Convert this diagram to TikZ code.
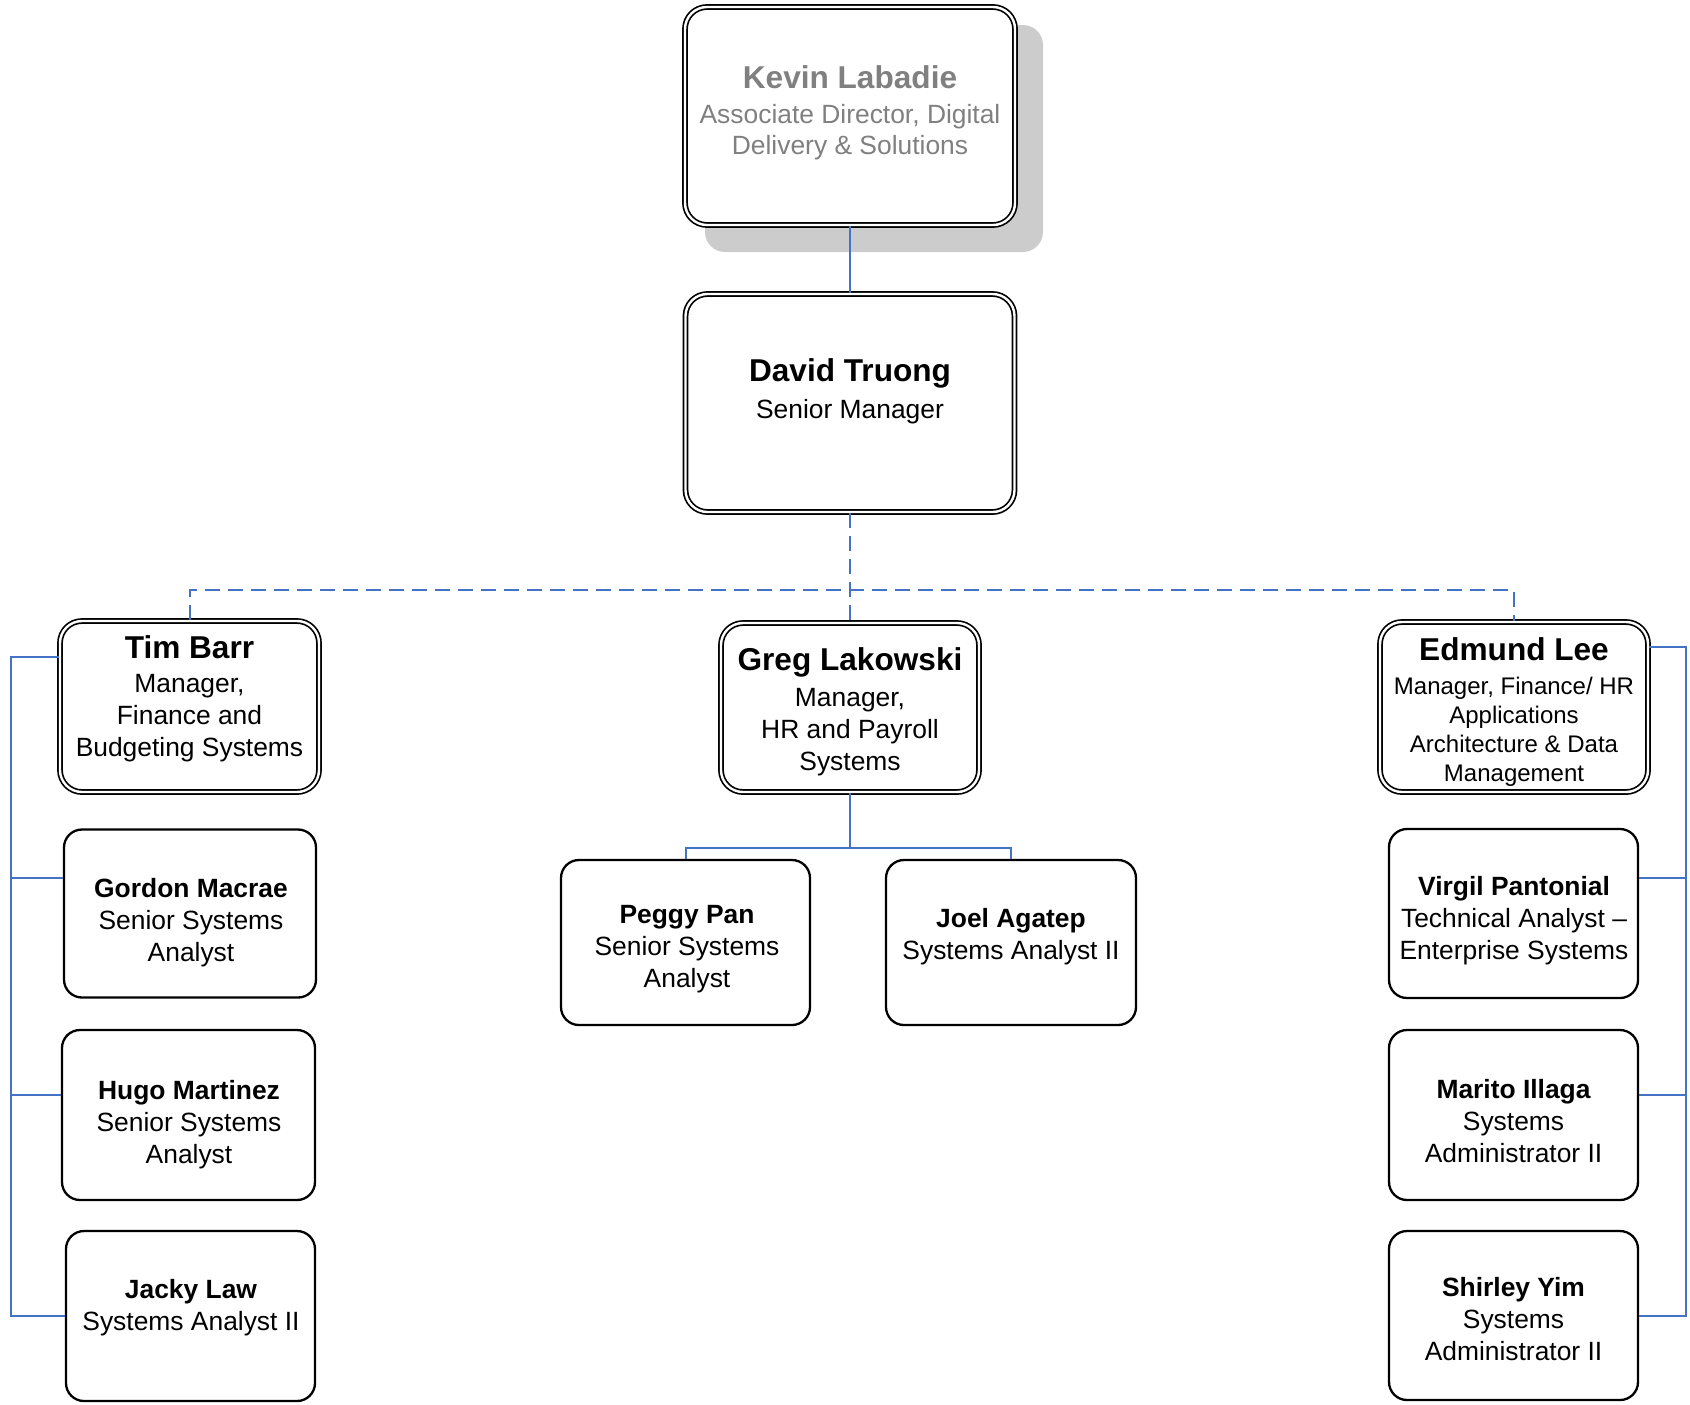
\documentclass[tikz,border=0pt]{standalone}
\usepackage{fontspec}
\setmainfont{Liberation Sans}
\definecolor{linkblue}{HTML}{4472C4}
\definecolor{headgray}{HTML}{808080}
\newcommand{\headname}[1]{{\fontsize{15.8}{18}\selectfont\bfseries #1}}
\newcommand{\staffname}[1]{{\bfseries #1}}
\tikzset{
  box/.style={draw,fill=white,line width=1.15pt,rounded corners=9pt,inner sep=0},
  dblbox/.style={draw,fill=white,line width=0.85pt,double=white,double distance=1.2pt,rounded corners=11pt,inner sep=0},
  txt/.style={inner sep=0,align=center,font=\fontsize{13.2}{16}\selectfont},
  link/.style={linkblue,line width=1pt},
  dashlink/.style={link,dash pattern=on 7.5pt off 4pt},
}
\begin{document}
\begin{tikzpicture}[x=0.5pt,y=-0.5pt]
    \useasboundingbox (0,0) rectangle (1690,1404);
    % director and senior manager
    \fill[black!20,rounded corners=10pt] (705,25) rectangle (1043,252);
    \node[dblbox,minimum width=165pt,minimum height=109pt] (kevin) at (850,116) {};
    \node[txt,text=headgray,font=\fontsize{13.2}{15.6}\selectfont] (kevin_text) at (850,113) {\headname{Kevin Labadie}\\[2pt]Associate Director, Digital\\Delivery \& Solutions};
    \node[dblbox,minimum width=164.5pt,minimum height=109pt] (david) at (850,403) {};
    \node[txt] (david_text) at (850,391) {\headname{David Truong}\\[2.3pt]Senior Manager};

    % managers
    \node[dblbox,minimum width=129.5pt,minimum height=85.5pt] (tim) at (189.5,706.5) {};
    \node[txt] (tim_text) at (189.5,698.5) {\headname{Tim Barr}\\[1pt]Manager,\\Finance and\\Budgeting Systems};
    \node[dblbox,minimum width=129pt,minimum height=84.5pt] (greg) at (850,707.5) {};
    \node[txt] (greg_text) at (850,712) {\headname{Greg Lakowski}\\[1.75pt]Manager,\\HR and Payroll\\Systems};
    \node[dblbox,minimum width=134pt,minimum height=85pt] (edmund) at (1514,707) {};
    \node[txt,font=\fontsize{12}{14.5}\selectfont] (edmund_text) at (1514,712) {\headname{Edmund Lee}\\[2.5pt]Manager, Finance/ HR\\Applications\\Architecture \& Data\\Management};

    % finance and budgeting staff
    \node[box,minimum width=126pt,minimum height=84pt] (gordon) at (190,913.5) {};
    \node[txt] (gordon_text) at (191,922.5) {\staffname{Gordon Macrae}\\Senior Systems\\Analyst};
    \node[box,minimum width=126.5pt,minimum height=85pt] (hugo) at (188.5,1115) {};
    \node[txt] (hugo_text) at (189,1125) {\staffname{Hugo Martinez}\\Senior Systems\\Analyst};
    \node[box,minimum width=124.5pt,minimum height=85pt] (jacky) at (190.5,1316) {};
    \node[txt] (jacky_text) at (191,1308) {\staffname{Jacky Law}\\Systems Analyst II};

    % hr and payroll staff
    \node[box,minimum width=124.5pt,minimum height=82.5pt] (peggy) at (685.5,942.5) {};
    \node[txt] (peggy_text) at (687,949.5) {\staffname{Peggy Pan}\\Senior Systems\\Analyst};
    \node[box,minimum width=125pt,minimum height=82.5pt] (joel) at (1011,942.5) {};
    \node[txt] (joel_text) at (1011,936.5) {\staffname{Joel Agatep}\\Systems Analyst II};

    % applications staff
    \node[box,minimum width=124.5pt,minimum height=84.5pt] (virgil) at (1513.5,913.5) {};
    \node[txt] (virgil_text) at (1514,921) {\staffname{Virgil Pantonial}\\Technical Analyst --\\Enterprise Systems};
    \node[box,minimum width=124.5pt,minimum height=85pt] (marito) at (1513.5,1115) {};
    \node[txt] (marito_text) at (1513.5,1121) {\staffname{Marito Illaga}\\Systems\\Administrator II};
    \node[box,minimum width=124.5pt,minimum height=84.5pt] (shirley) at (1513.5,1315.5) {};
    \node[txt] (shirley_text) at (1513.5,1319.5) {\staffname{Shirley Yim}\\Systems\\Administrator II};

    % connectors
    \coordinate (bus) at (850,590);
    \coordinate (gregjoin) at (850,848);
    \coordinate (leftrail) at (11,0);
    \coordinate (rightrail) at (1686,0);
    \coordinate (tim_out) at ([yshift=24.75pt]tim.west);
    \coordinate (gordon_in) at ([yshift=17.75pt]gordon.west);
    \coordinate (hugo_in) at ([yshift=10pt]hugo.west);
    \coordinate (edmund_out) at ([yshift=30pt]edmund.east);
    \coordinate (virgil_in) at ([yshift=17.75pt]virgil.east);
    \coordinate (marito_in) at ([yshift=10pt]marito.east);
    \draw[link] (kevin.south) -- (david.north);
    \draw[dashlink] (david.south) -- (greg.north);
    \draw[dashlink] (tim.north) |- (bus) -| (edmund.north);
    \draw[link] (greg.south) -- (gregjoin);
    \draw[link] (peggy.north) |- (gregjoin) -| (joel.north);
    \draw[link] (tim_out) -| (leftrail |- jacky.west) -- (jacky.west);
    \draw[link] (gordon_in) -- (leftrail |- gordon_in);
    \draw[link] (hugo_in) -- (leftrail |- hugo_in);
    \draw[link] (edmund_out) -| (rightrail |- shirley.east) -- (shirley.east);
    \draw[link] (virgil_in) -- (rightrail |- virgil_in);
    \draw[link] (marito_in) -- (rightrail |- marito_in);
\end{tikzpicture}
\end{document}
